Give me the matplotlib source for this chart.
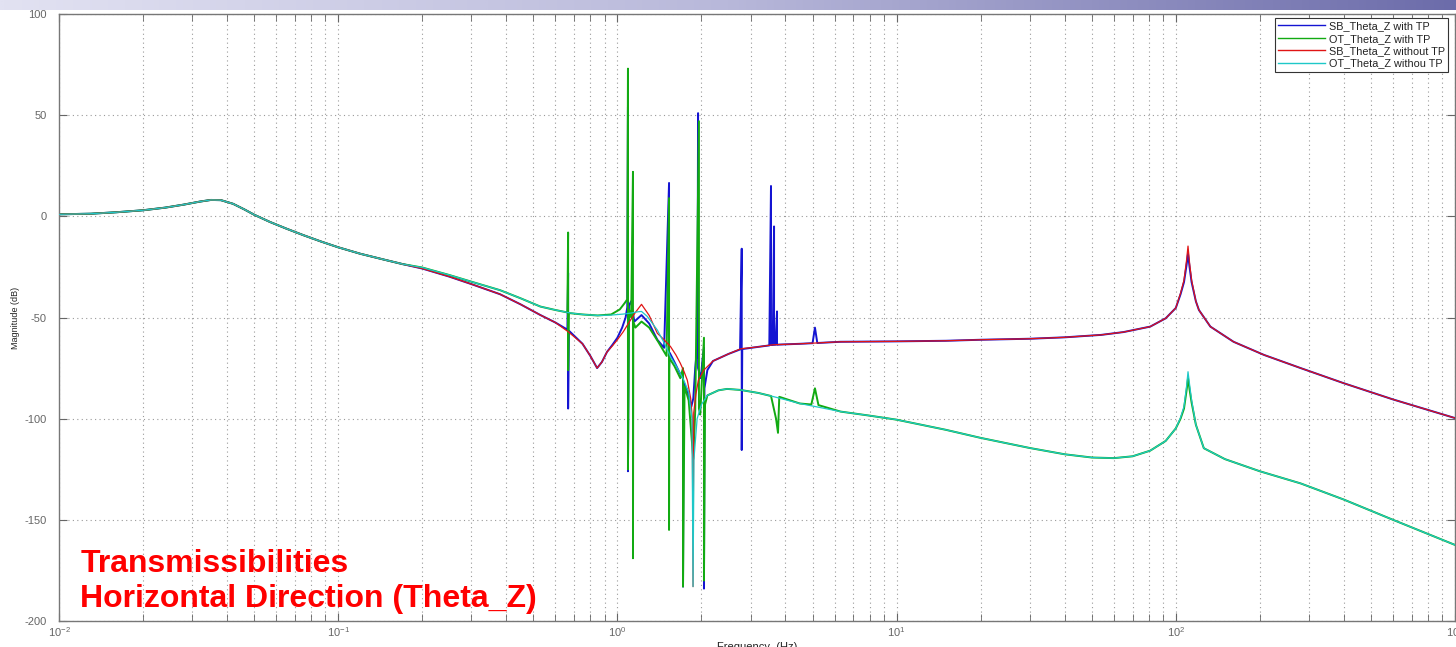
import numpy as np
import matplotlib
matplotlib.use('Agg')
import matplotlib.pyplot as plt
from matplotlib.colors import LinearSegmentedColormap

plt.rcParams['font.family'] = ['Liberation Sans', 'DejaVu Sans']
plt.rcParams['axes.unicode_minus'] = False
plt.rcParams['mathtext.fontset'] = 'custom'
plt.rcParams['mathtext.rm'] = 'Liberation Sans'

# ---------------- data ----------------
series_labels = ['SB_Theta_Z with TP', 'OT_Theta_Z with TP',
                 'SB_Theta_Z without TP', 'OT_Theta_Z withou TP']

# common low-frequency part (all four curves coincide)
low_f = [0.010, 0.013, 0.016, 0.020, 0.024, 0.028, 0.032, 0.035, 0.038, 0.042,
         0.046, 0.050, 0.057, 0.065, 0.075, 0.087, 0.100, 0.120, 0.145, 0.170]
low_db = [1.0, 1.3, 2.0, 3.0, 4.3, 5.8, 7.3, 8.1, 8.0, 6.2,
          3.5, 0.8, -2.8, -6.0, -9.3, -12.5, -15.3, -18.5, -21.3, -23.6]

# SB_Theta_Z without TP (red)
sb_wo_f = [0.20, 0.25, 0.30, 0.38, 0.45, 0.53, 0.60, 0.666, 0.75, 0.80, 0.846, 0.88,
           0.918, 0.96, 1.00, 1.05, 1.10, 1.16, 1.22, 1.30, 1.39, 1.47, 1.55, 1.62,
           1.68, 1.73, 1.78, 1.83, 1.855, 1.866, 1.877, 1.91, 1.95, 2.04, 2.2, 2.5,
           2.76, 3.2, 3.6, 4.5, 6.3, 10, 15, 20, 30, 40, 54, 65, 81, 92, 100, 104,
           107, 109.3, 110.6, 112.0, 113.9, 118, 121, 133, 161, 207, 280, 400, 600, 1000]
sb_wo_db = [-25.8, -29.8, -33.5, -38.5, -43.5, -48.8, -52.5, -57, -63, -69, -75, -72,
            -67, -64, -61, -57, -52.5, -47.5, -43.5, -49, -57.8, -61, -64.4, -68.5,
            -72.6, -76.5, -81, -90, -100, -183, -97, -88, -81, -76, -71.5, -68,
            -65.5, -64.5, -63.5, -63, -62, -61.8, -61.5, -61, -60.5, -59.8, -58.6, -57.2,
            -54.5, -50.4, -45.3, -38,
            -31.5, -21.6, -14.7, -23, -31.5, -42, -46.3, -54.5, -62, -68.5, -75, -82.5,
            -90.5, -99.7]

# OT_Theta_Z without TP (cyan)
ot_wo_f = [0.20, 0.25, 0.30, 0.38, 0.45, 0.53, 0.60, 0.68, 0.75, 0.85, 0.95, 1.05,
           1.12, 1.18, 1.22, 1.28, 1.39, 1.47, 1.55, 1.64, 1.73, 1.80, 1.85, 1.866,
           1.88, 1.93, 2.0, 2.1, 2.3, 2.47, 2.76, 3.2, 3.6, 4.5, 6.3, 8, 10, 15, 20,
           30, 40, 50, 60, 70, 81, 92, 100, 104, 107, 109.3, 110.6, 112.0, 113.9, 118, 126,
           150, 200, 280, 400, 600, 1000]
ot_wo_db = [-25.3, -29, -32.3, -36.5, -40.5, -44.6, -46.3, -47.8, -48.5, -49, -48.8, -48.3,
            -47.8, -47.2, -47, -49.5, -56.2, -62.5, -69.4, -75, -81, -87, -100, -183,
            -120, -100, -93, -88.5, -86, -85.3, -85.8, -87.3, -89, -92.5, -96.5, -98.5,
            -100.5, -105.5, -109.5,
            -114.5, -117.6, -119.2, -119.5, -118.6, -115.8, -111, -104.8, -99.5, -94, -84,
            -76.8, -83, -90.8, -103, -114.6,
            -120, -126, -132, -140, -150, -162.4]

# SB_Theta_Z with TP (blue) : spikes are repeated frequencies
sb_w_f = [0.20, 0.25, 0.30, 0.38, 0.45, 0.53, 0.60, 0.662, 0.666, 0.666, 0.670, 0.75, 0.80,
          0.846, 0.88, 0.918, 0.96, 1.00, 1.04, 1.07, 1.085, 1.091, 1.091, 1.10, 1.12, 1.15,
          1.22, 1.30, 1.39, 1.47, 1.531, 1.531, 1.54, 1.60, 1.68, 1.718, 1.718, 1.725, 1.78,
          1.84, 1.87, 1.90, 1.935, 1.945, 1.945, 1.99, 2.02, 2.042, 2.042, 2.05, 2.1, 2.2,
          2.5, 2.75, 2.788, 2.788, 2.80, 3.2, 3.5, 3.549, 3.549, 3.60, 3.64, 3.64, 3.68,
          3.73, 3.73, 3.78, 4.5, 5.0, 5.10, 5.2, 6.3, 10, 15, 20, 30, 40, 54, 65, 81, 92,
          100, 104, 107, 109.3, 110.6, 112.0, 113.9, 118, 121, 133, 161, 207, 280, 400, 600, 1000]
sb_w_db = [-25.8, -29.8, -33.5, -38.5, -43.5, -48.8, -52.5, -56, -28, -95, -56.5, -63, -69,
           -75, -72, -67, -63.5, -60, -55, -50, -45, 54, -126, -44, -42, -52,
           -48.8, -53, -61, -65, 16.5, -75, -67.5, -72, -78, -80, -183, -82, -86,
           -94, -90, -75, -63, 51, -75, -80, -70, -65, -184, -85, -76, -71.5,
           -68, -65.8, -16, -115.5, -65.6, -64.5, -63.8, 15, -63.6, -63.6, -5, -63.5, -63.5,
           -47, -63.5, -63.4, -63, -62.7, -55, -62.6, -62, -61.8, -61.5, -61, -60.5, -59.8,
           -58.6, -57.2, -54.5, -50.4,
           -45.3, -38.5, -32.5, -24, -18.5, -25, -32.5, -42, -46.3, -54.5, -62, -68.5, -75,
           -82.5, -90.5, -99.7]

# OT_Theta_Z with TP (green)
ot_w_f = [0.20, 0.25, 0.30, 0.38, 0.45, 0.53, 0.60, 0.662, 0.666, 0.666, 0.670, 0.75, 0.85,
          0.95, 1.02, 1.06, 1.085, 1.091, 1.091, 1.10, 1.12, 1.137, 1.137, 1.14, 1.16, 1.22,
          1.30, 1.40, 1.50, 1.531, 1.531, 1.535, 1.60, 1.68, 1.718, 1.718, 1.74, 1.80, 1.87,
          1.90, 1.959, 1.959, 1.98, 2.042, 2.042, 2.06, 2.1, 2.3, 2.47, 2.76, 3.2, 3.55, 3.70,
          3.76, 3.80, 4.5, 4.95, 5.10, 5.25, 6.3, 8, 10, 15, 20, 30, 40, 50, 60, 70, 81, 92,
          100, 104, 107, 109.3, 110.6, 112.0, 113.9, 118, 126, 150, 200, 280, 400, 600, 1000]
ot_w_db = [-25.3, -29, -32.3, -36.5, -40.5, -44.6, -46.3, -47.5, -8, -76, -47.8, -48.5, -49,
           -48.5, -46, -43, -41, 73, -125, -46, -50, 22, -169, -52, -55, -52,
           -55, -62, -69, 9, -155, -70, -74, -80, -75, -183, -84, -91, -120,
           -96, 47, -95, -98, -60, -180, -93, -88.5, -86, -85.3, -85.8, -87.3, -88.8, -100,
           -107, -89.2, -92.5, -93, -85, -93.3, -96.5, -98.5, -100.5, -105.5, -109.5,
           -114.5, -117.6, -119.2, -119.5, -118.6, -115.8, -111,
           -104.8, -100, -95, -86, -80, -85.5, -92, -103, -114.6, -120, -126, -132, -140,
           -150, -162.4]

colors = ['#1414d2', '#12aa12', '#e01414', '#1ec8c8']
xlims = (1e-2, 1e3)
ylims = (-200, 100)
yticks = [-200, -150, -100, -50, 0, 50, 100]

# ---------------- figure ----------------
W, H = 1456, 647
fig = plt.figure(figsize=(W / 100, H / 100), dpi=100)

# top gradient bar
gax = fig.add_axes([0, 1 - 10 / H, 1, 10 / H])
cmap = LinearSegmentedColormap.from_list('bar', ['#e2e2f2', '#b8b8da', '#6c6caa'])
gax.imshow(np.linspace(0, 1, 512)[None, :], aspect='auto', cmap=cmap,
           extent=[0, 1, 0, 1])
gax.set_axis_off()

left, right, top, bottom = 59, 1455, 14, 621
ax = fig.add_axes([left / W, 1 - bottom / H, (right - left) / W, (bottom - top) / H])

series = [
    (low_f + sb_w_f, low_db + sb_w_db),
    (low_f + ot_w_f, low_db + ot_w_db),
    (low_f + sb_wo_f, low_db + sb_wo_db),
    (low_f + ot_wo_f, low_db + ot_wo_db),
]
zorders = [2, 2.5, 3, 3.5]
widths = [1.4, 1.4, 0.9, 0.9]
handles = []
for (f, d), c, lab, z, lw in zip(series, colors, series_labels, zorders, widths):
    ax.semilogx(f, d, color=c, lw=lw, zorder=z)
    h, = ax.plot([], [], color=c, lw=1.0, label=lab)
    handles.append(h)

ax.set_xlim(*xlims)
ax.set_ylim(*ylims)
ax.set_yticks(yticks)
ax.grid(True, which='major', linestyle=(0, (1, 3)), color='#9a9a9a', lw=0.8)
ax.grid(True, which='minor', axis='x', linestyle=(0, (1, 3)), color='#9a9a9a', lw=0.8)
ax.tick_params(which='both', direction='in', top=True, right=True, colors='#666666',
               labelcolor='#666666', labelsize=8)
ax.tick_params(which='major', length=6)
ax.tick_params(axis='y', which='major', pad=9)
ax.tick_params(axis='x', which='major', pad=3)
ax.tick_params(which='minor', length=5)
for s in ax.spines.values():
    s.set_color('#777777')
    s.set_linewidth(1.0)

ax.set_xlabel('Frequency  (Hz)', fontsize=8, color='#222222', labelpad=2)
ax.set_ylabel('Magnitude (dB)', fontsize=6.5, color='#222222', labelpad=3)

leg = ax.legend(handles=handles, loc='upper right',
                bbox_to_anchor=(1448 / W, 1 - 18 / H), bbox_transform=fig.transFigure,
                fontsize=7.8, frameon=True, fancybox=False, framealpha=1,
                edgecolor='#333333', handlelength=4.3, handletextpad=0.35,
                labelspacing=0.22, borderpad=0.3, borderaxespad=0)
leg.get_frame().set_linewidth(0.8)
for t in leg.get_texts():
    t.set_color('#222222')

fig.text(80.5 / W, 1 - 571.5 / H, 'Transmissibilities', color='#ff0000',
         fontsize=23, fontweight='bold', va='baseline', ha='left')
fig.text(80.5 / W, 1 - 607 / H, 'Horizontal Direction (Theta_Z)', color='#ff0000',
         fontsize=23, fontweight='bold', va='baseline', ha='left')

fig.savefig('out.png', dpi=100)
